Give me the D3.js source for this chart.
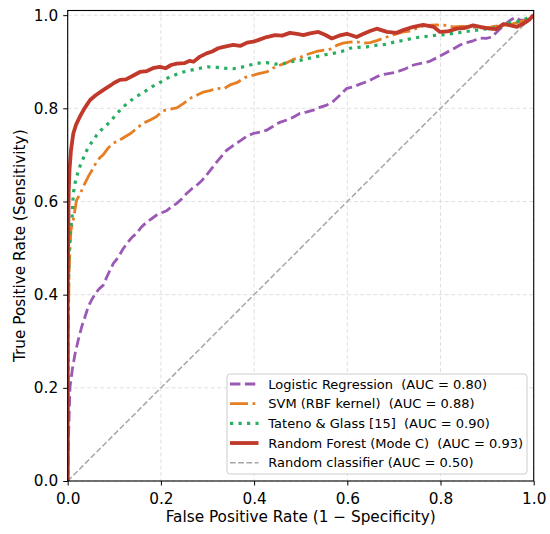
<!DOCTYPE html>
<html>
<head>
<meta charset="utf-8">
<script src="https://cdn.jsdelivr.net/npm/d3@7"></script>
<style>
  html, body { margin: 0; padding: 0; background: #fff; }
  svg { display: block; font-family: "DejaVu Sans", sans-serif; }
  text { white-space: pre; }
</style>
</head>
<body>
<svg id="chart" width="550" height="534"></svg>
<script>
// ---------- data (FPR, TPR) ----------
const xTicks = [0, 0.2, 0.4, 0.6, 0.8, 1.0];
const yTicks = [0, 0.2, 0.4, 0.6, 0.8, 1.0];

const lrPoints = [[0,0],[0.002,0.10],[0.005,0.202],[0.01,0.24],[0.016,0.274],[0.022,0.30],[0.03,0.331],[0.037,0.352],[0.044,0.374],[0.052,0.390],[0.062,0.406],[0.068,0.413],[0.076,0.420],[0.083,0.436],[0.091,0.453],[0.098,0.467],[0.109,0.481],[0.118,0.497],[0.127,0.510],[0.137,0.522],[0.148,0.532],[0.158,0.545],[0.17,0.556],[0.18,0.563],[0.191,0.571],[0.202,0.576],[0.212,0.580],[0.222,0.588],[0.234,0.596],[0.245,0.606],[0.255,0.617],[0.266,0.627],[0.277,0.635],[0.288,0.645],[0.298,0.657],[0.31,0.672],[0.32,0.685],[0.33,0.697],[0.341,0.710],[0.355,0.720],[0.37,0.730],[0.384,0.740],[0.398,0.746],[0.413,0.749],[0.427,0.753],[0.44,0.761],[0.455,0.770],[0.47,0.775],[0.484,0.781],[0.498,0.789],[0.512,0.792],[0.527,0.796],[0.541,0.802],[0.556,0.807],[0.57,0.815],[0.584,0.828],[0.599,0.843],[0.613,0.846],[0.627,0.852],[0.642,0.857],[0.656,0.864],[0.67,0.871],[0.685,0.874],[0.706,0.878],[0.725,0.885],[0.742,0.893],[0.76,0.897],[0.777,0.901],[0.795,0.910],[0.813,0.920],[0.828,0.928],[0.842,0.936],[0.856,0.941],[0.87,0.945],[0.885,0.951],[0.898,0.950],[0.91,0.953],[0.922,0.965],[0.935,0.977],[0.948,0.988],[0.96,0.995],[0.97,0.990],[0.978,0.989],[0.99,0.993],[1,1]];

const svmPoints = [[0,0],[0.001,0.30],[0.003,0.45],[0.005,0.50],[0.007,0.539],[0.012,0.56],[0.019,0.603],[0.026,0.615],[0.035,0.635],[0.045,0.655],[0.055,0.672],[0.062,0.686],[0.07,0.695],[0.076,0.700],[0.088,0.716],[0.098,0.725],[0.11,0.731],[0.123,0.739],[0.135,0.746],[0.148,0.757],[0.162,0.768],[0.177,0.775],[0.19,0.782],[0.205,0.795],[0.22,0.798],[0.234,0.801],[0.248,0.810],[0.262,0.821],[0.277,0.828],[0.291,0.835],[0.305,0.838],[0.32,0.843],[0.335,0.842],[0.35,0.851],[0.363,0.855],[0.38,0.866],[0.398,0.871],[0.412,0.875],[0.427,0.878],[0.44,0.886],[0.456,0.893],[0.47,0.898],[0.484,0.905],[0.498,0.909],[0.515,0.916],[0.534,0.922],[0.55,0.925],[0.563,0.927],[0.577,0.935],[0.591,0.940],[0.605,0.942],[0.62,0.943],[0.634,0.940],[0.649,0.941],[0.665,0.946],[0.685,0.953],[0.70,0.958],[0.72,0.964],[0.735,0.966],[0.756,0.975],[0.77,0.978],[0.792,0.979],[0.813,0.978],[0.827,0.975],[0.845,0.976],[0.863,0.975],[0.88,0.973],[0.899,0.972],[0.915,0.976],[0.935,0.978],[0.95,0.980],[0.971,0.986],[0.985,0.99],[1,1]];

const tatenoPoints = [[0,0],[0.001,0.35],[0.003,0.50],[0.006,0.54],[0.009,0.56],[0.012,0.617],[0.016,0.64],[0.019,0.653],[0.026,0.675],[0.03,0.685],[0.041,0.710],[0.05,0.725],[0.062,0.742],[0.075,0.757],[0.091,0.771],[0.103,0.786],[0.116,0.800],[0.128,0.811],[0.141,0.821],[0.155,0.830],[0.17,0.839],[0.182,0.847],[0.194,0.853],[0.207,0.861],[0.22,0.868],[0.234,0.873],[0.248,0.878],[0.265,0.882],[0.284,0.886],[0.30,0.889],[0.32,0.888],[0.338,0.886],[0.355,0.885],[0.372,0.888],[0.391,0.893],[0.41,0.897],[0.427,0.898],[0.445,0.895],[0.463,0.896],[0.48,0.900],[0.498,0.903],[0.516,0.907],[0.534,0.911],[0.552,0.915],[0.57,0.918],[0.588,0.922],[0.606,0.929],[0.625,0.931],[0.642,0.932],[0.66,0.935],[0.68,0.937],[0.70,0.942],[0.72,0.946],[0.74,0.950],[0.756,0.953],[0.775,0.955],[0.792,0.957],[0.81,0.958],[0.827,0.961],[0.845,0.963],[0.863,0.966],[0.878,0.968],[0.892,0.970],[0.905,0.971],[0.921,0.974],[0.935,0.978],[0.949,0.984],[0.965,0.986],[0.985,0.993],[1,1]];

const rfPoints = [[0,0],[0,0.40],[0.002,0.62],[0.004,0.67],[0.007,0.71],[0.012,0.746],[0.018,0.765],[0.026,0.782],[0.036,0.800],[0.048,0.818],[0.06,0.828],[0.076,0.839],[0.09,0.848],[0.1,0.855],[0.112,0.861],[0.125,0.862],[0.14,0.870],[0.155,0.878],[0.17,0.880],[0.185,0.887],[0.198,0.889],[0.21,0.886],[0.222,0.893],[0.234,0.896],[0.25,0.897],[0.262,0.902],[0.27,0.900],[0.284,0.911],[0.298,0.918],[0.31,0.922],[0.323,0.929],[0.335,0.932],[0.355,0.936],[0.37,0.934],[0.385,0.941],[0.398,0.943],[0.41,0.947],[0.427,0.953],[0.445,0.957],[0.46,0.956],[0.477,0.962],[0.492,0.960],[0.506,0.957],[0.52,0.961],[0.538,0.964],[0.552,0.958],[0.567,0.950],[0.582,0.956],[0.599,0.960],[0.62,0.953],[0.635,0.960],[0.649,0.966],[0.663,0.971],[0.685,0.964],[0.706,0.962],[0.72,0.968],[0.742,0.975],[0.763,0.979],[0.785,0.975],[0.799,0.964],[0.815,0.965],[0.835,0.971],[0.85,0.972],[0.87,0.978],[0.885,0.975],[0.906,0.971],[0.92,0.970],[0.935,0.981],[0.95,0.978],[0.964,0.975],[0.978,0.982],[0.99,0.99],[1,1]];

const randomPoints = [[0,0],[1,1]];

const seriesNames = [
  "Logistic Regression  (AUC = 0.80)",
  "SVM (RBF kernel)  (AUC = 0.88)",
  "Tateno & Glass [15]  (AUC = 0.90)",
  "Random Forest (Mode C)  (AUC = 0.93)",
  "Random classifier (AUC = 0.50)"
];
const xLabel = "False Positive Rate (1 \u2212 Specificity)";
const yLabel = "True Positive Rate (Sensitivity)";

// ---------- styles ----------
const styles = [
  { color: "#9b59b6", width: 2.8, dash: "10.4,4.5", cap: "butt" },
  { color: "#e67e22", width: 2.8, dash: "18,4.5,2.8,4.5", cap: "butt" },
  { color: "#27ae60", width: 3.2, dash: "3.2,5.3", cap: "butt" },
  { color: "#c0392b", width: 3.8, dash: null, cap: "butt" },
  { color: "#a6a6a6", width: 1.5, dash: "5.7,2.5", cap: "butt" }
];
const allSeries = [lrPoints, svmPoints, tatenoPoints, rfPoints, randomPoints];

// ---------- layout ----------
const W = 550, H = 534;
const m = { left: 67.7, top: 10.5, right: 16.3, bottom: 53 };
const pw = W - m.left - m.right, ph = H - m.top - m.bottom;

const svg = d3.select("#chart");
const x = d3.scaleLinear().domain([0, 1]).range([m.left, m.left + pw]);
const y = d3.scaleLinear().domain([0, 1.01]).range([m.top + ph, m.top]);

// grid
const grid = svg.append("g");
grid.selectAll("line.gx").data(xTicks).join("line")
  .attr("x1", d => x(d)).attr("x2", d => x(d))
  .attr("y1", m.top).attr("y2", m.top + ph)
  .attr("stroke", "#dcdcdc").attr("stroke-width", 0.9).attr("stroke-dasharray", "4,2.5");
grid.selectAll("line.gy").data(yTicks).join("line")
  .attr("x1", m.left).attr("x2", m.left + pw)
  .attr("y1", d => y(d)).attr("y2", d => y(d))
  .attr("stroke", "#dcdcdc").attr("stroke-width", 0.9).attr("stroke-dasharray", "4,2.5");

// clip
svg.append("clipPath").attr("id", "clip").append("rect")
  .attr("x", m.left).attr("y", m.top).attr("width", pw).attr("height", ph);

const line = d3.line().x(d => x(d[0])).y(d => y(d[1]));
const lines = svg.append("g").attr("clip-path", "url(#clip)");
const order = [4, 0, 1, 2, 3];
order.forEach(i => {
  const s = styles[i];
  lines.append("path").datum(allSeries[i])
    .attr("d", line)
    .attr("fill", "none")
    .attr("stroke", s.color)
    .attr("stroke-width", s.width)
    .attr("stroke-linejoin", "round")
    .attr("stroke-linecap", s.cap)
    .attr("stroke-dasharray", s.dash);
});

// axes
const fmt = d3.format(".1f");
const xAxis = svg.append("g").attr("transform", `translate(0,${m.top + ph})`)
  .call(d3.axisBottom(x).tickValues(xTicks).tickFormat(fmt).tickSize(4.5).tickPadding(7.5));
const yAxis = svg.append("g").attr("transform", `translate(${m.left},0)`)
  .call(d3.axisLeft(y).tickValues(yTicks).tickFormat(fmt).tickSize(4.5).tickPadding(5));
[xAxis, yAxis].forEach(a => {
  a.select(".domain").remove();
  a.selectAll("text").attr("font-size", 15.3).attr("font-family", "DejaVu Sans").attr("fill", "#000");
  a.selectAll("line").attr("stroke", "#000").attr("stroke-width", 1);
});

// frame
svg.append("rect").attr("x", m.left).attr("y", m.top).attr("width", pw).attr("height", ph)
  .attr("fill", "none").attr("stroke", "#000").attr("stroke-width", 1.1);

// labels
svg.append("text").attr("x", m.left + pw / 2).attr("y", 522)
  .attr("text-anchor", "middle").attr("font-size", 15.3).text(xLabel);
svg.append("text").attr("transform", `translate(24.5,${m.top + ph / 2}) rotate(-90)`)
  .attr("text-anchor", "middle").attr("font-size", 15.3).text(yLabel);

// legend
const lg = svg.append("g");
lg.append("rect").attr("x", 227).attr("y", 374).attr("width", 300).attr("height", 100)
  .attr("rx", 3).attr("fill", "#fff").attr("fill-opacity", 0.85)
  .attr("stroke", "#cccccc").attr("stroke-width", 1);
const rowY = d3.scaleLinear().domain([0, 4]).range([384, 462.7]);
seriesNames.forEach((name, i) => {
  const s = styles[i];
  const yy = rowY(i);
  lg.append("line").attr("x1", 230).attr("x2", 258.5).attr("y1", yy).attr("y2", yy)
    .attr("stroke", s.color).attr("stroke-width", s.width)
    .attr("stroke-dasharray", s.dash).attr("stroke-linecap", s.cap);
  lg.append("text").attr("x", 268.3).attr("y", yy).attr("dy", "0.36em")
    .attr("font-size", 13).text(name);
});
</script>
</body>
</html>
